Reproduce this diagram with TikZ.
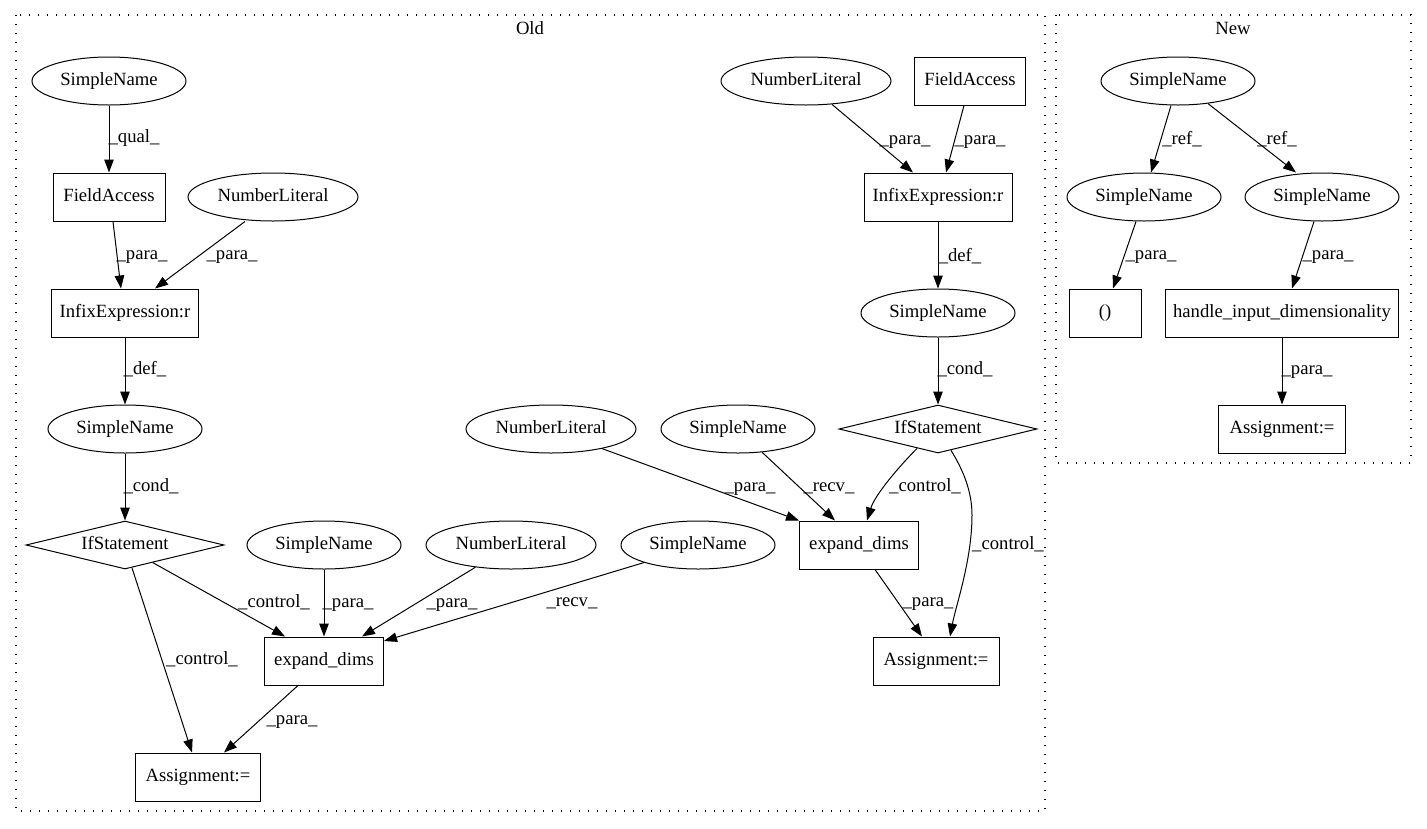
\documentclass[tikz,border=0pt]{standalone}
\usepackage{fontspec}
\setmainfont{Liberation Serif}
\usetikzlibrary{shapes.geometric,arrows.meta,calc}
\begin{document}
\begin{tikzpicture}[x=1pt,y=-1pt,
  every node/.style={font=\fontsize{18.67}{22}\selectfont, text height=13pt, text depth=4pt, inner sep=0pt},
  ell/.style={draw, ellipse, line width=1pt, minimum height=48pt},
  box/.style={draw, rectangle, line width=1pt, minimum height=48pt},
  dia/.style={draw, diamond, aspect=4.2, line width=1pt, minimum width=198pt, minimum height=48pt},
  edge/.style={line width=1pt, -{Triangle[length=13pt,width=9.5pt]}},
  cluster/.style={line width=1.3pt, dash pattern=on 1.3pt off 7.7pt}]
\useasboundingbox (0,0) rectangle (1427,828);
% clusters
\draw[cluster] (16,15) rectangle (1045,811);
\draw[cluster] (1056,15) rectangle (1411,463);
\node (oldlbl) at (530,30) {Old};
\node (newlbl) at (1233,30) {New};
% Old, left part
\node[ell, minimum width=154pt] (sn1) at (109,81) {SimpleName};
\node[box, minimum width=112pt] (fa1) at (109,197) {FieldAccess};
\node[ell, minimum width=170pt] (nl1) at (273,197) {NumberLiteral};
\node[box, minimum width=147pt] (inf1) at (125,313) {InfixExpression:r};
\node[ell, minimum width=154pt] (sn2) at (125,429) {SimpleName};
\node[dia] (if1) at (125,545) {IfStatement};
\node[ell, minimum width=154pt] (sn3) at (324,545) {SimpleName};
\node[ell, minimum width=170pt] (nl2) at (511,545) {NumberLiteral};
\node[ell, minimum width=154pt] (sn4) at (698,545) {SimpleName};
\node[box, minimum width=119pt] (ed1) at (324,661) {expand\_dims};
\node[box, minimum width=125pt] (as1) at (198,777) {Assignment:=};
% Old, right part
\node[ell, minimum width=170pt] (nl3) at (806,81) {NumberLiteral};
\node[box, minimum width=111pt] (fa2) at (970,81) {FieldAccess};
\node[box, minimum width=148pt] (inf2) at (938,197) {InfixExpression:r};
\node[ell, minimum width=154pt] (sn5) at (938,313) {SimpleName};
\node[dia] (if2) at (938,429) {IfStatement};
\node[ell, minimum width=170pt] (nl4) at (551,429) {NumberLiteral};
\node[ell, minimum width=154pt] (sn6) at (738,429) {SimpleName};
\node[box, minimum width=119pt] (ed2) at (859,545) {expand\_dims};
\node[box, minimum width=126pt] (as2) at (936,661) {Assignment:=};
% New
\node[ell, minimum width=154pt] (sn7) at (1178,81) {SimpleName};
\node[ell, minimum width=154pt] (sn8) at (1144,197) {SimpleName};
\node[ell, minimum width=154pt] (sn9) at (1322,197) {SimpleName};
\node[box, minimum width=72pt] (par) at (1105,313) {()};
\node[box, minimum width=233pt] (hid) at (1282,313) {handle\_input\_dimensionality};
\node[box, minimum width=127pt] (as3) at (1282,429) {Assignment:=};
% edges Old left
\draw[edge] (sn1.south) -- (fa1.north);
\draw[edge] ([xshift=4pt]fa1.south) -- ([xshift=-4pt]inf1.north);
\draw[edge] ([xshift=-28pt]nl1.south) -- ([xshift=30pt]inf1.north);
\draw[edge] (inf1.south) -- (sn2.north);
\draw[edge] (sn2.south) -- (if1.north);
\draw[edge] ($(if1.south)!0.28!(if1.east)$) -- ([xshift=-39pt]ed1.north);
\draw[edge] ($(if1.south)!0.07!(if1.east)$) -- ([xshift=-6pt]as1.north);
\draw[edge] (sn3.south) -- (ed1.north);
\draw[edge] (nl2.-148) -- ([xshift=38pt]ed1.north);
\draw[edge] (sn4.198) -- ([yshift=20pt]ed1.east);
\draw[edge] ([xshift=-26pt]ed1.south) -- ([xshift=26pt]as1.north);
% edges Old right
\draw[edge] (nl3.-42) -- ([xshift=-25pt]inf2.north);
\draw[edge] ([xshift=-6pt]fa2.south) -- ([xshift=8pt]inf2.north);
\draw[edge] (inf2.south) -- (sn5.north);
\draw[edge] (sn5.south) -- (if2.north);
\draw[edge] (nl4.-21) -- (ed2.north west);
\draw[edge] (sn6.-44) -- ([xshift=-24pt]ed2.north);
\draw[edge] ($(if2.south)!0.21!(if2.west)$) .. controls +(-17,17) and +(8,-26) .. ([xshift=8pt]ed2.north);
\draw[edge] ($(if2.south)!0.13!(if2.east)$) .. controls (962,468) and (972,490) .. (972,515)
   .. controls (972,560) and (956,605) .. ([xshift=14pt]as2.north);
\draw[edge] ([xshift=16pt]ed2.south) -- ([xshift=-14pt]as2.north);
% edges New
\draw[edge] ([xshift=-7pt]sn7.south) -- ([xshift=7pt]sn8.north);
\draw[edge] (sn7.-37) -- ([xshift=-26pt]sn9.north);
\draw[edge] ([xshift=-8pt]sn8.south) -- ([xshift=8pt]par.north);
\draw[edge] ([xshift=-8pt]sn9.south) -- ([xshift=10pt]hid.north);
\draw[edge] (hid.south) -- (as3.north);
% edge labels
\node (l1) at (134,138) {\_qual\_};
\node (l2) at (142,255) {\_para\_};
\node (l3) at (232,255) {\_para\_};
\node (l4) at (145,370) {\_def\_};
\node (l5) at (151,487) {\_cond\_};
\node (l6) at (274,603) {\_control\_};
\node (l7) at (202,660) {\_control\_};
\node (l8) at (348,603) {\_para\_};
\node (l9) at (452,603) {\_para\_};
\node (l10) at (572,602) {\_recv\_};
\node (l11) at (292,720) {\_para\_};
\node (l12) at (905,140) {\_para\_};
\node (l13) at (980,140) {\_para\_};
\node (l14) at (960,257) {\_def\_};
\node (l15) at (965,370) {\_cond\_};
\node (l16) at (750,487) {\_para\_};
\node (l17) at (829,487) {\_recv\_};
\node (l18) at (925,487) {\_control\_};
\node (l19) at (1008,545) {\_control\_};
\node (l20) at (928,602) {\_para\_};
\node (l21) at (1182,140) {\_ref\_};
\node (l22) at (1277,140) {\_ref\_};
\node (l23) at (1151,255) {\_para\_};
\node (l24) at (1328,255) {\_para\_};
\node (l25) at (1307,370) {\_para\_};
\end{tikzpicture}
\end{document}
